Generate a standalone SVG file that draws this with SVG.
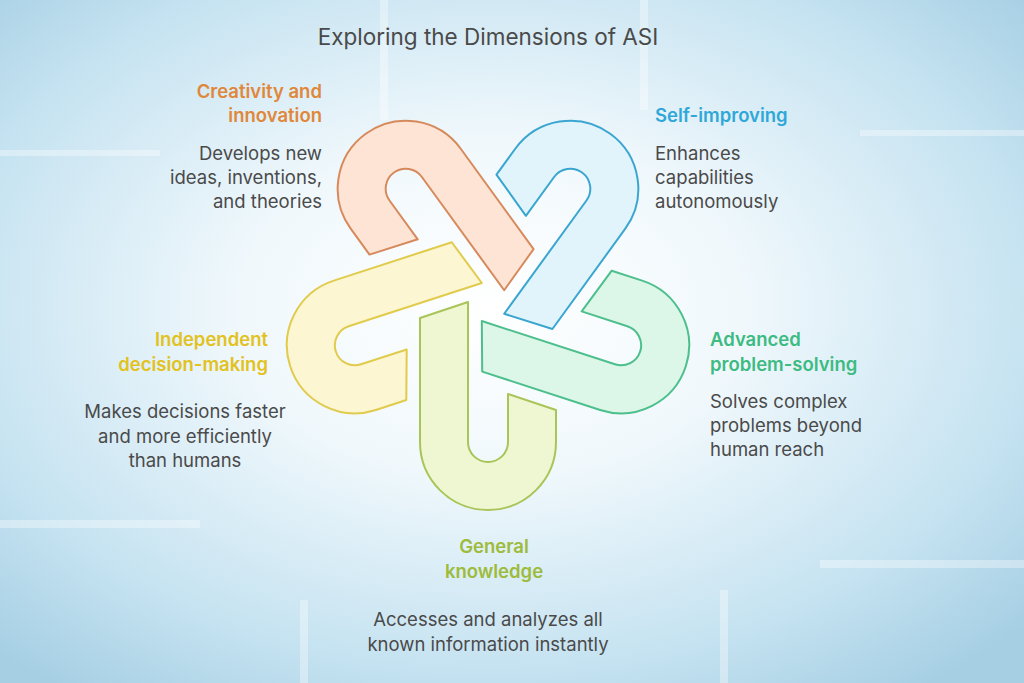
<svg xmlns="http://www.w3.org/2000/svg" width="1024" height="683" viewBox="0 0 1024 683">
<defs>
<radialGradient id="bg" cx="0.48" cy="0.45" r="0.7">
<stop offset="0" stop-color="#ffffff"/>
<stop offset="0.35" stop-color="#f0f8fc"/>
<stop offset="0.75" stop-color="#c6e3f1"/>
<stop offset="1" stop-color="#a6cfe4"/>
</radialGradient>
<path id="u" d="M -68,-124 L -68,0 A 68 68 0 0 0 68,0 L 68,-32 L 20,-48 L 20,0 A 20 20 0 0 1 -20,0 L -20,-140 Z" transform="translate(488,442)" stroke-width="2" stroke-linejoin="round"/>
<style>
text{font-family:"Inter","Roboto","Liberation Sans",sans-serif;font-size:18.5px;fill:#4a4a4a}
.h{font-weight:600}
.e{text-anchor:end}.m{text-anchor:middle}
</style>
</defs>
<rect width="1024" height="683" fill="url(#bg)"/>
<g fill="#ffffff" opacity="0.35">
<rect x="0" y="150" width="160" height="6"/><rect x="860" y="130" width="164" height="6"/>
<rect x="0" y="520" width="200" height="8"/><rect x="820" y="560" width="204" height="8"/>
<rect x="380" y="0" width="8" height="120"/><rect x="640" y="0" width="8" height="110"/>
<rect x="300" y="600" width="8" height="83"/><rect x="720" y="590" width="8" height="93"/>
</g>
<text x="488" y="45" class="m" style="font-size:22.5px">Exploring the Dimensions of ASI</text>
<g id="shapes">
<g id="n-orange"><use href="#u" transform="rotate(144,488,302)" fill="#fde4d4" stroke="#d68a5c"/></g>
<g id="n-blue"><use href="#u" transform="rotate(-144,488,302)" fill="#e1f4fb" stroke="#3aa6d0"/></g>
<g id="n-teal"><use href="#u" transform="rotate(-72,488,302)" fill="#dcf6e7" stroke="#4dbf8c"/></g>
<g id="n-yellow"><use href="#u" transform="rotate(72,488,302)" fill="#fdf6d2" stroke="#e0cb4c"/></g>
<g id="n-green"><use href="#u" fill="#eef7d2" stroke="#a9c457"/></g>
</g>
<g id="t-creativity">
<text x="322" y="98" class="h e" style="fill:#e0873a">Creativity and</text>
<text x="322" y="122" class="h e" style="fill:#e0873a">innovation</text>
<text x="322" y="160" class="e">Develops new</text>
<text x="322" y="184" class="e">ideas, inventions,</text>
<text x="322" y="208" class="e">and theories</text>
</g>
<g id="t-self">
<text x="655" y="122" class="h" style="fill:#2fa8d8">Self-improving</text>
<text x="655" y="160">Enhances</text>
<text x="655" y="184">capabilities</text>
<text x="655" y="208">autonomously</text>
</g>
<g id="t-indep">
<text x="268" y="346" class="h e" style="fill:#e2c220">Independent</text>
<text x="268" y="371" class="h e" style="fill:#e2c220">decision-making</text>
<text x="185" y="418" class="m">Makes decisions faster</text>
<text x="185" y="443" class="m">and more efficiently</text>
<text x="185" y="467" class="m">than humans</text>
</g>
<g id="t-adv">
<text x="710" y="346" class="h" style="fill:#3dbb82">Advanced</text>
<text x="710" y="371" class="h" style="fill:#3dbb82">problem-solving</text>
<text x="710" y="408">Solves complex</text>
<text x="710" y="432">problems beyond</text>
<text x="710" y="456">human reach</text>
</g>
<g id="t-general">
<text x="494" y="553" class="h m" style="fill:#9dbb3c">General</text>
<text x="494" y="578" class="h m" style="fill:#9dbb3c">knowledge</text>
<text x="488" y="626" class="m">Accesses and analyzes all</text>
<text x="488" y="651" class="m">known information instantly</text>
</g>
</svg>
